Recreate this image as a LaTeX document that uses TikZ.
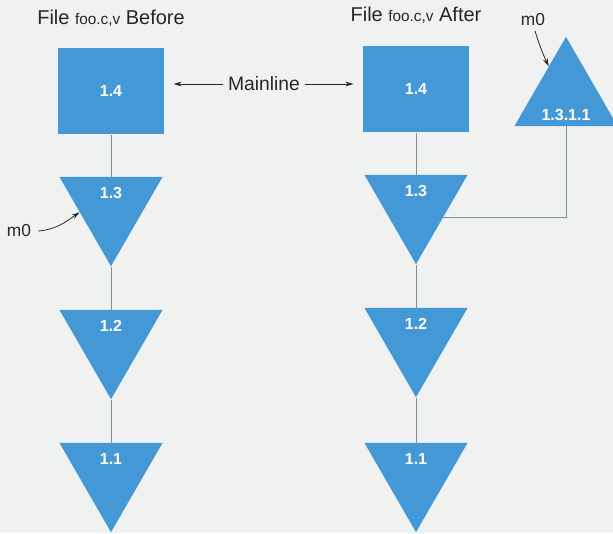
\documentclass[tikz,border=0pt]{standalone}
\usepackage{fontspec}
\setmainfont{Liberation Sans}
\usetikzlibrary{shapes.geometric,arrows.meta,positioning}

\definecolor{revblue}{RGB}{68,152,213}
\definecolor{paper}{RGB}{239,242,240}
\definecolor{linkgrey}{RGB}{125,145,165}
\definecolor{inkgrey}{RGB}{40,40,40}

\tikzset{
  revbox/.style={fill=revblue, minimum width=79.5pt, minimum height=65pt, inner sep=0pt,
    text=white, font=\bfseries\fontsize{12}{14}\selectfont},
  revdown/.style={regular polygon, regular polygon sides=3, shape border rotate=180,
    fill=revblue, minimum size=89.25pt, inner sep=0pt,
    label={[revnum,yshift=10pt]center:#1}},
  revup/.style={regular polygon, regular polygon sides=3,
    fill=revblue, minimum size=89.25pt, inner sep=0pt,
    label={[revnum,yshift=-14pt]center:#1}},
  revnum/.style={text=white, font=\bfseries\fontsize{12}{14}\selectfont},
  link/.style={draw=linkgrey, line width=0.6pt},
  tag/.style={text=inkgrey, font=\fontsize{14.5}{17}\selectfont},
  heading/.style={text=black!85, font=\fontsize{15}{18}\selectfont},
  pointer/.style={-{Stealth[length=6pt,width=3.6pt]}, draw=inkgrey, line width=0.6pt},
}
\newcommand{\rcsname}{{\fontsize{11.5}{14}\selectfont foo.c,v}}

\begin{document}
\begin{tikzpicture}[x=0.75pt,y=-0.75pt]
  \fill[paper] (0,0) rectangle (613,533);
  \useasboundingbox (0,0) rectangle (613,533);

  % before
  \node[heading] (oldtitle) at (111,18) {File \rcsname{} Before};
  \node[revbox] (old14) at (111,91) {1.4};
  \node[revdown=1.3] (old13) at (111,206.7) {};
  \node[revdown=1.2] (old12) at (111,339.7) {};
  \node[revdown=1.1] (old11) at (111,472.7) {};
  \draw[link] (old14) -- (old13) (old13) -- (old12) (old12) -- (old11);

  % after
  \node[heading] (newtitle) at (416,15) {File \rcsname{} After};
  \node[revbox] (new14) at (416,89) {1.4};
  \node[revdown=1.3] (new13) at (416,204.7) {};
  \node[revdown=1.2] (new12) at (416,337.7) {};
  \node[revdown=1.1] (new11) at (416,472.7) {};
  \draw[link] (new14) -- (new13) (new13) -- (new12) (new12) -- (new11);

  % branch
  \node[revup=1.3.1.1] (br1311) at (566,96.3) {};
  \draw[link] (new13.-25) -| (br1311.south);

  % marks and mainline
  \node[tag, font=\fontsize{13}{15}\selectfont] (m0old) at (19,231) {m0};
  \draw[pointer] ([xshift=2pt]m0old.east) to[out=5,in=215] (old13.190);
  \node[tag, font=\fontsize{13}{15}\selectfont] (m0new) at (533,20) {m0};
  \draw[pointer] ([xshift=1.5pt]m0new.south) to[bend right=4] (br1311.120);
  \node[tag] (mainline) at (264,84) {Mainline};
  \draw[pointer, shorten >=7pt] (mainline.west) -- (mainline.west -| old14.east);
  \draw[pointer, shorten >=7pt] (mainline.east) -- (mainline.east -| new14.west);
\end{tikzpicture}
\end{document}
